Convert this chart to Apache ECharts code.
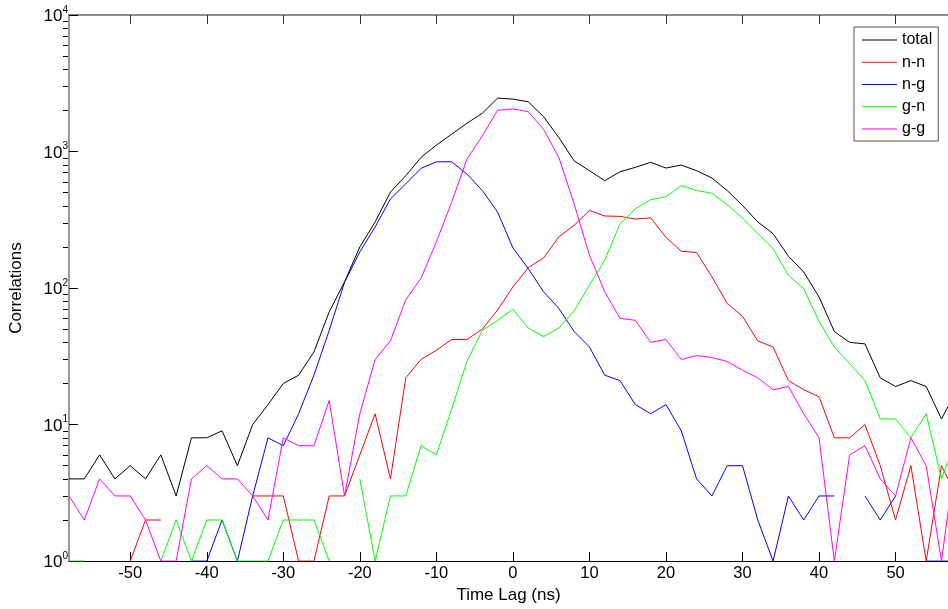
<!DOCTYPE html>
<html>
<head>
<meta charset="utf-8">
<script src="https://cdn.jsdelivr.net/npm/echarts@6/dist/echarts.min.js"></script>
<style>
html,body{margin:0;padding:0;background:#fff;}
#c{width:948px;height:609px;}
</style>
</head>
<body>
<div id="c"></div>
<script>
var lags = [-58,-56,-54,-52,-50,-48,-46,-44,-42,-40,-38,-36,-34,-32,-30,-28,-26,-24,-22,-20,-18,-16,-14,-12,-10,-8,-6,-4,-2,0,2,4,6,8,10,12,14,16,18,20,22,24,26,28,30,32,34,36,38,40,42,44,46,48,50,52,54,56,58];
var total = [4,4,6,4,5,4,6,3,8,8,9,5,10,14,20,23,34,67,111,200,305,504,665,906,1114,1340,1611,1905,2460,2420,2316,1800,1267,855,724,612,711,766,833,757,796,724,640,518,402,305,250,171,131,86,48,40,39,22,19,21,19,11,18];
var nn = [null,null,2,null,1,2,2,null,2,null,1,null,3,3,3,1,1,3,3,6,12,4,22,30,35,42,42,50,69,102,141,166,237,288,370,337,335,320,327,235,186,182,121,77,62,41,37,21,18,16,8,8,10,5,2,5,1,5,3];
var ng = [null,null,null,null,null,null,null,null,1,1,2,1,3,8,7,12,23,49,110,184,280,450,580,753,841,841,684,518,360,197,139,94,71,48,37,23,21,14,12,14,9,4,3,5,5,2,1,3,2,3,3,null,3,2,3,null,1,1,1];
var gn = [1,1,null,1,null,null,1,2,1,2,2,1,1,1,2,2,2,1,null,4,1,3,3,7,6,13,29,49,58,70,51,44,51,68,105,160,296,380,444,467,562,518,495,407,326,250,195,124,99,57,37,28,21,11,11,8,12,4,8];
var gg = [3,2,4,3,3,2,1,1,4,5,4,4,3,2,8,7,7,15,3,12,30,41,82,118,218,426,880,1300,2004,2050,1960,1456,906,414,174,94,60,58,40,42,30,32,31,29,25,22,18,19,12,8,1,6,7,4,3,8,5,1,7];
var seriesNames = ['total','n-n','n-g','g-n','g-g'];
var seriesColors = ['#000000','#ff0000','#0000ff','#00ff00','#ff00ff'];
var xTicks = [-50,-40,-30,-20,-10,0,10,20,30,40,50];
var yMajor = [1,10,100,1000,10000];
var yMinor = [];
for (var d = 1; d < 10000; d *= 10) { for (var k = 2; k <= 9; k++) yMinor.push(k * d); }

var seriesValues = [total, nn, ng, gn, gg];
function pairs(vals) {
  return lags.map(function (x, i) { return [x, vals[i] == null ? '-' : vals[i]]; });
}

var FONT = "'Liberation Sans', Arial, sans-serif";
var GRID_LEFT = 63, GRID_W = 948 - GRID_LEFT;
var chart = echarts.init(document.getElementById('c'), null, {renderer: 'canvas'});
var option = {
  animation: false,
  backgroundColor: '#ffffff',
  grid: {left: GRID_LEFT, top: 15, right: 0, bottom: 45, containLabel: false},
  legend: {
    orient: 'vertical',
    left: 854, top: 27,
    backgroundColor: '#ffffff',
    borderColor: '#555555', borderWidth: 1,
    padding: [5, 6, 4, 8],
    itemWidth: 35, itemHeight: 1,
    itemGap: 6.25,
    icon: 'rect',
    textStyle: {fontFamily: FONT, fontSize: 16, color: '#000', lineHeight: 16, padding: [0,0,0,0]},
    data: seriesNames
  },
  xAxis: [{
    type: 'value', min: -58, max: 56.85, position: 'bottom',
    name: 'Time Lag (ns)', nameLocation: 'middle', nameGap: 22,
    nameTextStyle: {fontFamily: FONT, fontSize: 17, color: '#000'},
    axisLine: {show: true, onZero: false, lineStyle: {color: '#000', width: 1}},
    axisTick: {show: true, inside: true, length: 9, customValues: xTicks, lineStyle: {color: '#000'}},
    axisLabel: {show: true, customValues: xTicks, margin: 4, fontFamily: FONT, fontSize: 16.5, color: '#000'},
    splitLine: {show: false}
  }, {
    type: 'value', min: -58, max: 56.85, position: 'top',
    axisLine: {show: true, onZero: false, lineStyle: {color: '#666', width: 1.5}},
    axisTick: {show: true, inside: true, length: 9, customValues: xTicks, lineStyle: {color: '#333'}},
    axisLabel: {show: false},
    splitLine: {show: false}
  }],
  yAxis: [{
    type: 'log', logBase: 10, min: 1, max: 10000, position: 'left',
    name: 'Correlations', nameLocation: 'middle', nameGap: 44,
    nameTextStyle: {fontFamily: FONT, fontSize: 17, color: '#000'},
    axisLine: {show: true, onZero: false, lineStyle: {color: '#777', width: 1.5}},
    axisTick: {show: true, inside: true, length: 9, customValues: yMajor, lineStyle: {color: '#000'}},
    axisLabel: {
      show: true, customValues: yMajor, margin: 1,
      formatter: function (v) { return '{b|10}{s|' + Math.round(Math.log10(v)) + '}'; },
      rich: {
        b: {fontFamily: FONT, fontSize: 17, color: '#000', lineHeight: 20, verticalAlign: 'bottom'},
        s: {fontFamily: FONT, fontSize: 10, color: '#000', lineHeight: 20, verticalAlign: 'top'}
      }
    },
    splitLine: {show: false},
    minorTick: {show: false}
  }, {
    type: 'log', logBase: 10, min: 1, max: 10000, position: 'right',
    offset: -GRID_W,
    axisLine: {show: false, onZero: false},
    axisTick: {show: true, inside: false, length: 5, customValues: yMinor, lineStyle: {color: '#000'}},
    axisLabel: {show: false},
    splitLine: {show: false}
  }],
  series: seriesNames.map(function (n, i) {
    return {
      name: n, type: 'line', xAxisIndex: 0, yAxisIndex: 0,
      data: pairs(seriesValues[i]),
      showSymbol: false, symbol: 'none',
      connectNulls: false, clip: true,
      lineStyle: {color: seriesColors[i], width: 1},
      itemStyle: {color: seriesColors[i]},
      emphasis: {disabled: true}
    };
  })
};
chart.setOption(option);
</script>
</body>
</html>
